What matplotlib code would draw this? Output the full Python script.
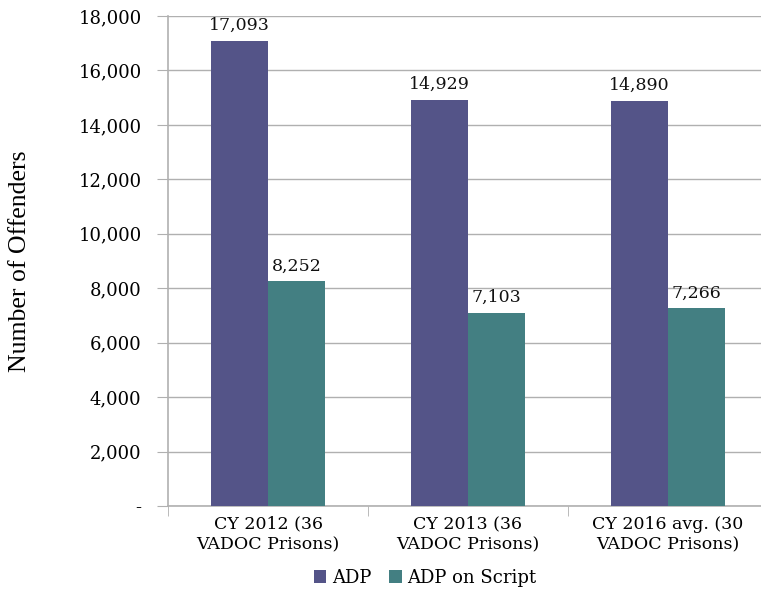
import numpy as np
import matplotlib.pyplot as plt
from matplotlib.ticker import FuncFormatter

# Average daily population vs. those on a prescription
categories = ["CY 2012 (36\nVADOC Prisons)", "CY 2013 (36\nVADOC Prisons)", "CY 2016 avg. (30\nVADOC Prisons)"]
adp = [17093, 14929, 14890]
adp_script = [8252, 7103, 7266]
series_names = ["ADP", "ADP on Script"]

purple = "#545488"
teal = "#437f82"
grid_col = "#b0b0b0"
serif = ["DejaVu Serif"]

fig = plt.figure(figsize=(7.61, 5.9), dpi=100)
ax = fig.add_axes([168 / 761, 84 / 590, 600 / 761, 490 / 590])

x = np.arange(len(categories))
w = 0.285
b1 = ax.bar(x - w / 2, adp, w, color=purple, label=series_names[0], zorder=3)
b2 = ax.bar(x + w / 2, adp_script, w, color=teal, label=series_names[1], zorder=3)

for bars in (b1, b2):
    for rect in bars:
        v = rect.get_height()
        ax.text(rect.get_x() + rect.get_width() / 2, v + 250, f"{v:,}",
                ha="center", va="bottom", fontsize=12.5, family=serif, color="#111111")

ax.set_xlim(-0.5, 2.5)
ax.set_ylim(0, 18000)
ax.set_yticks(np.arange(0, 18001, 2000))
ax.yaxis.set_major_formatter(FuncFormatter(lambda v, p: "-" if v == 0 else f"{int(v):,}"))
ax.set_xticks(x)
ax.set_xticklabels(categories, fontsize=12.5, family=serif, linespacing=1.3)
ax.set_xticks([-0.5, 0.5, 1.5, 2.5], minor=True)
ax.tick_params(axis="x", which="major", length=0, pad=7)
ax.tick_params(axis="x", which="minor", length=7, color=grid_col)
ax.tick_params(axis="y", length=8, color=grid_col, labelsize=13, pad=11)
for lab in ax.get_yticklabels():
    lab.set_family(serif)

ax.grid(axis="y", color=grid_col, linewidth=1, zorder=0)
for s in ("top", "right"):
    ax.spines[s].set_visible(False)
for s in ("left", "bottom"):
    ax.spines[s].set_color(grid_col)
    ax.spines[s].set_linewidth(1.2)

ax.set_ylabel("Number of Offenders", fontsize=18.5, family="Liberation Serif", labelpad=34)

fig.legend(handles=[b1, b2], loc="center", bbox_to_anchor=(425 / 761, 1 - 578 / 590),
           ncol=2, frameon=False, prop={"family": serif, "size": 13},
           handlelength=0.7, handleheight=0.7, handletextpad=0.3, columnspacing=1.0)

fig.savefig("out.png", dpi=100)
